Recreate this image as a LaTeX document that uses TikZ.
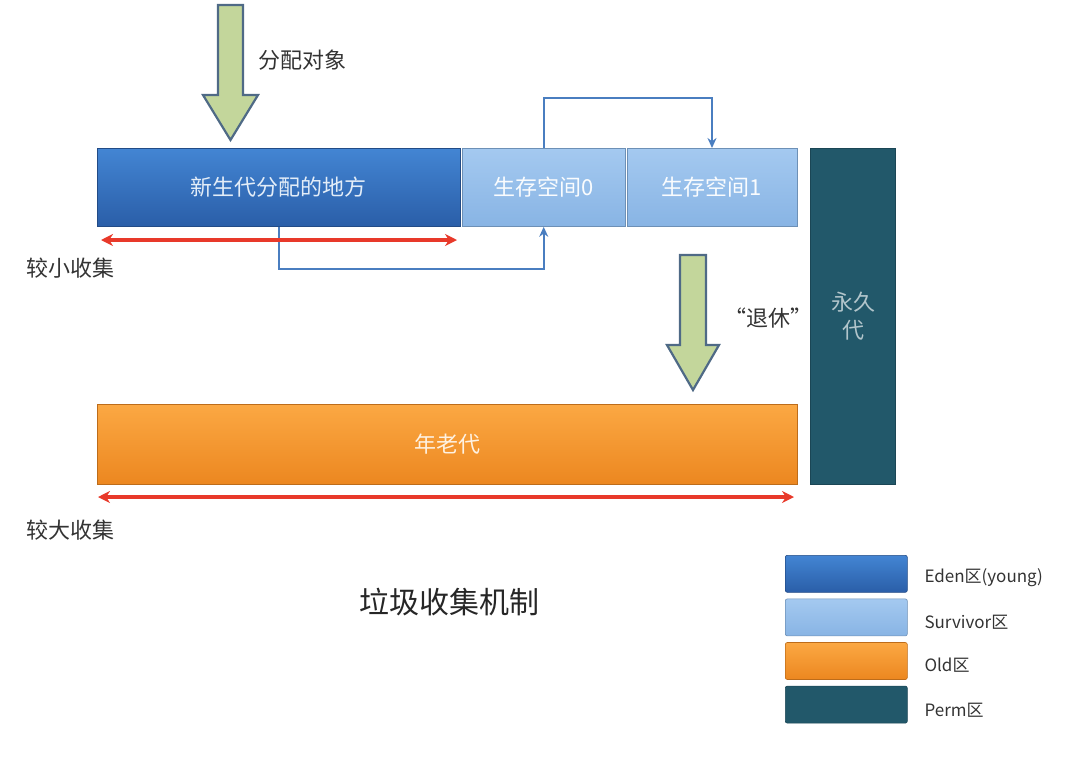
\documentclass[tikz,border=0pt]{standalone}
\usepackage{fontspec}
\setmainfont{Noto Sans CJK SC}
\usepackage{xcolor}
\usetikzlibrary{arrows.meta,positioning}

\definecolor{edenTop}{HTML}{4385D3}
\definecolor{edenBot}{HTML}{2A5EA8}
\definecolor{survTop}{HTML}{A4C9F0}
\definecolor{survBot}{HTML}{88B4E4}
\definecolor{oldTop}{HTML}{FBA843}
\definecolor{oldBot}{HTML}{EC8720}
\definecolor{permCol}{HTML}{22586A}
\definecolor{grnFill}{HTML}{C3D69B}
\definecolor{grnLine}{HTML}{4F6A86}
\definecolor{connBlue}{HTML}{4A7EC0}
\definecolor{redArr}{HTML}{E8392A}
\definecolor{lblGray}{HTML}{333333}

\begin{document}
\begin{tikzpicture}[
    x=1pt, y=-1pt,
    block/.style={draw=#1!80!black, line width=0.8pt, anchor=north west, inner sep=0pt, font=\fontsize{22pt}{26pt}\selectfont},
    eden/.style={block=edenBot, top color=edenTop, bottom color=edenBot, text=white!85!edenTop},
    surv/.style={block=survBot, top color=survTop, bottom color=survBot, text=white!95!survTop},
    old/.style={block=oldBot, top color=oldTop, bottom color=oldBot, text=white!85!oldTop},
    perm/.style={block=permCol, fill=permCol, text=white!65!permCol},
    legbox/.style={draw=#1!80!black, line width=0.6pt, rounded corners=2pt, minimum width=122pt, minimum height=37pt, anchor=north west},
    leglbl/.style={anchor=west, text=lblGray, font=\fontsize{17pt}{20pt}\selectfont},
    lbl/.style={text=lblGray, font=\fontsize{22pt}{26pt}\selectfont},
    conn/.style={-{Stealth[length=10pt,width=9pt]}, connBlue, line width=2.2pt},
    redarr/.style={{Stealth[length=12pt,width=12pt]}-{Stealth[length=12pt,width=12pt]}, redArr, line width=3.4pt},
    bigarrow/.style={fill=grnFill, draw=grnLine, line width=2.2pt, line join=miter}
]
\useasboundingbox (0,0) rectangle (1071,766);

% young generation
\node[eden, minimum width=363pt, minimum height=78pt] (eden) at (97,148) {新生代分配的地方};
\node[surv, minimum width=163pt, minimum height=78pt, right=1pt of eden.north east, anchor=north west] (s0) {生存空间0};
\node[surv, minimum width=170pt, minimum height=78pt, right=1pt of s0.north east, anchor=north west] (s1) {生存空间1};

% old and perm generations
\node[old, minimum width=700pt, minimum height=80pt] (old) at (97,404) {年老代};
\node[perm, minimum width=85pt, minimum height=336pt] (perm) at (810,148) {};
\node[text=white!65!permCol, align=center, font=\fontsize{22pt}{28pt}\selectfont] (permtxt) at (853,316) {永久\\代};

% big green arrows
\draw[bigarrow] (218,5) -- (243,5) -- (243,95) -- (258,95) -- (230.5,140) -- (203,95) -- (218,95) -- cycle;
\draw[bigarrow] (680,255) -- (706,255) -- (706,345) -- (719,345) -- (693,390) -- (667,345) -- (680,345) -- cycle;
\node[lbl, anchor=west] (alloc) at (255,60) {分配对象};
\node[lbl] (retire) at (768,318) {“退休”};

% survivor copying
\draw[conn] (s0.north) -- ++(0,-50) -| (s1.north);
\draw[conn] (eden.south) -- ++(0,42) -| (s0.south);

% collection ranges
\coordinate (minorL) at (101,240);
\coordinate (minorR) at (457,240);
\coordinate (majorL) at (98,497);
\coordinate (majorR) at (794,497);
\draw[redarr] (minorL) -- (minorR);
\draw[redarr] (majorL) -- (majorR);
\node[lbl] (minor) at (71,268) {较小收集};
\node[lbl] (major) at (71,530) {较大收集};

% title
\node[text=black!85, font=\fontsize{30pt}{34pt}\selectfont] (title) at (449,602) {垃圾收集机制};

% legend
\node[legbox=edenBot, top color=edenTop, bottom color=edenBot] (legEden) at (785,555) {};
\node[legbox=survBot, top color=survTop, bottom color=survBot, below=6pt of legEden.south west, anchor=north west] (legSurv) {};
\node[legbox=oldBot, top color=oldTop, bottom color=oldBot, below=6pt of legSurv.south west, anchor=north west] (legOld) {};
\node[legbox=permCol, fill=permCol, below=6pt of legOld.south west, anchor=north west] (legPerm) {};
\node[leglbl] at (921,578) {Eden区(young)};
\node[leglbl] at (921,622) {Survivor区};
\node[leglbl] at (921,665) {Old区};
\node[leglbl] at (921,710) {Perm区};
\end{tikzpicture}
\end{document}
